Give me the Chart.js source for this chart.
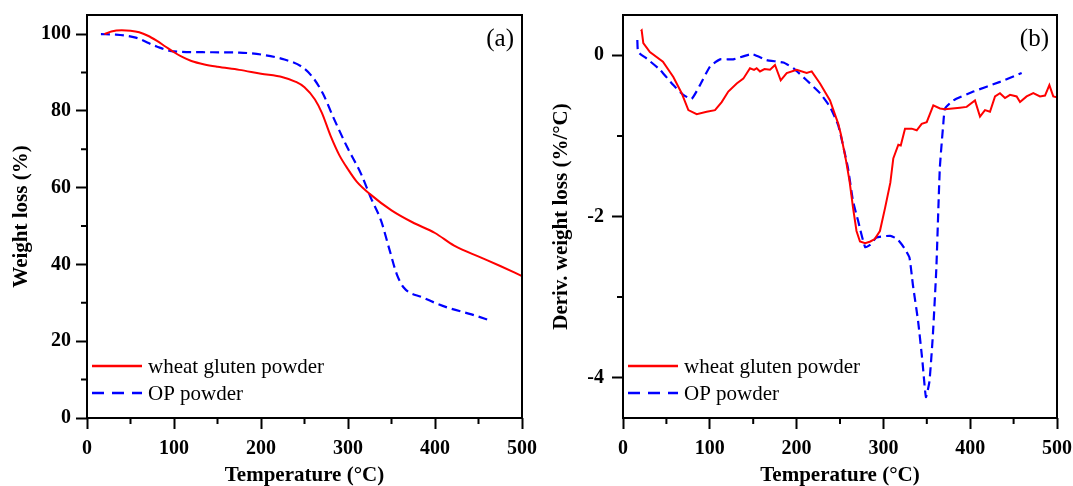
<!DOCTYPE html>
<html>
<head>
<meta charset="utf-8">
<script src="https://cdn.jsdelivr.net/npm/chart.js@4.4.1/dist/chart.umd.min.js"></script>
<style>
  html, body { margin: 0; padding: 0; background: #fff; overflow: hidden; }
  #wrap { position: relative; width: 1073px; height: 486px; background: #fff; }
  #ca { position: absolute; left: 0; top: 0; }
  #cb { position: absolute; left: 540px; top: 0; }
</style>
</head>
<body>
<div id="wrap">
  <canvas id="ca" width="540" height="486"></canvas>
  <canvas id="cb" width="533" height="486"></canvas>
</div>
<script>
// ---------- DATA ----------
const seriesNames = ['wheat gluten powder', 'OP powder'];
const panelLabels = ['(a)', '(b)'];

// Panel (a): weight loss (%) vs temperature (°C)
const aTempWheat   = [20, 28, 40, 50, 60, 70, 80, 90, 100, 110, 120, 135, 150, 175, 200, 225, 240, 250, 262, 270, 280, 290, 300, 310, 326, 350, 374, 400, 422, 453, 475, 500];
const aWeightWheat = [100.0, 100.7, 101.0, 100.9, 100.5, 99.6, 98.3, 96.8, 95.3, 94.0, 93.0, 92.1, 91.5, 90.7, 89.7, 88.8, 87.6, 86.2, 83.0, 79.5, 73.5, 68.5, 64.8, 61.6, 58.2, 54.1, 51.0, 48.2, 44.9, 41.8, 39.6, 37.0];
const aTempOP      = [16, 33, 56, 80, 100, 136, 175, 203, 227, 247, 259, 271, 283, 299, 315, 326, 338, 348, 356, 364, 386, 414, 442, 465];
const aWeightOP    = [100.0, 99.9, 99.1, 96.8, 95.5, 95.3, 95.2, 94.6, 93.4, 91.5, 88.9, 84.6, 78.4, 70.6, 63.6, 57.5, 51.4, 43.6, 37.5, 34.0, 31.4, 28.8, 27.0, 25.3];

// Panel (b): derivative weight loss (%/°C) vs temperature (°C)
const bTempWheat  = [20.5, 21.5, 23.4, 31, 46, 58, 67.6, 75.3, 84.9, 96.4, 106, 113.7, 121.3, 131, 138.6, 146.3, 151, 154, 157.8, 163, 169.4, 175.1, 181.7, 188.6, 200.1, 211.6, 217.4, 227, 238.5, 248, 251, 257, 261, 265, 269, 273, 279, 285, 290, 296, 302, 308, 311.4, 317.2, 320, 324.9, 332.6, 338.4, 344.1, 349.9, 357.5, 365.2, 371, 388.2, 395.9, 405.5, 411.3, 417, 422.8, 428.6, 434.3, 440.1, 445.9, 453.5, 457.4, 465, 472.7, 480.4, 486.2, 491.2, 495.7, 500];
const bDerivWheat = [0.30, 0.31, 0.15, 0.04, -0.08, -0.27, -0.47, -0.68, -0.73, -0.70, -0.68, -0.58, -0.45, -0.35, -0.29, -0.16, -0.18, -0.16, -0.20, -0.17, -0.18, -0.12, -0.31, -0.22, -0.18, -0.22, -0.20, -0.35, -0.56, -0.85, -0.98, -1.31, -1.56, -1.89, -2.18, -2.31, -2.33, -2.31, -2.28, -2.18, -1.89, -1.58, -1.28, -1.11, -1.12, -0.91, -0.91, -0.93, -0.85, -0.83, -0.62, -0.66, -0.67, -0.65, -0.64, -0.56, -0.76, -0.68, -0.70, -0.51, -0.47, -0.53, -0.49, -0.51, -0.58, -0.51, -0.47, -0.51, -0.50, -0.37, -0.51, -0.52];
const bTempOP     = [16.5, 17.5, 27.3, 42.6, 58, 69.5, 79.1, 88.7, 100.2, 111.8, 127, 148.3, 165.5, 184.7, 196.2, 211.6, 227, 238.5, 248, 259, 265, 271, 279, 285, 292, 308, 316, 324, 330, 334, 340, 345, 349, 353, 357, 361, 365, 369, 371, 380.5, 403.6, 434.3, 459.3];
const bDerivOP    = [0.19, 0.04, -0.04, -0.18, -0.37, -0.49, -0.54, -0.37, -0.14, -0.05, -0.05, 0.015, -0.06, -0.09, -0.16, -0.31, -0.47, -0.64, -0.87, -1.39, -1.81, -2.06, -2.38, -2.35, -2.26, -2.24, -2.28, -2.39, -2.51, -2.85, -3.30, -3.80, -4.24, -4.05, -3.47, -2.64, -1.40, -0.85, -0.66, -0.56, -0.45, -0.33, -0.22];

// Tick labels
const xMajorTicks  = [0, 100, 200, 300, 400, 500];
const xMinorTicks  = [50, 150, 250, 350, 450];
const aYMajorTicks = [0, 20, 40, 60, 80, 100];
const aYMinorTicks = [10, 30, 50, 70, 90];
const bYMajorTicks = [-4, -2, 0];
const bYMinorTicks = [-3, -1];

const xTitle  = 'Temperature (°C)';
const aYTitle = 'Weight loss (%)';
const bYTitle = 'Deriv. weight loss (%/°C)';

// ---------- STYLE ----------
const FONT = 'Liberation Serif';
const RED = '#ff0000';
const BLUE = '#0000ff';
const DASH = [9, 5];

function pts(xs, ys) { return xs.map((x, i) => ({ x: x, y: ys[i] })); }

const decorPlugin = {
  id: 'decor',
  afterDraw(chart, args, opts) {
    const { ctx, chartArea: a } = chart;
    ctx.save();
    ctx.strokeStyle = '#000';
    ctx.lineWidth = 2;
    ctx.setLineDash([]);
    ctx.strokeRect(a.left, a.top, a.right - a.left, a.bottom - a.top);
    const xs = chart.scales.x, ys = chart.scales.y;
    ctx.beginPath();
    opts.xMinor.forEach(v => {
      const px = xs.getPixelForValue(v);
      ctx.moveTo(px, a.bottom); ctx.lineTo(px, a.bottom + 6);
    });
    opts.yMinor.forEach(v => {
      const py = ys.getPixelForValue(v);
      ctx.moveTo(a.left, py); ctx.lineTo(a.left - 6, py);
    });
    ctx.stroke();
    ctx.font = '21px "' + FONT + '"';
    ctx.textBaseline = 'middle';
    ctx.textAlign = 'left';
    const rows = [a.bottom - 52, a.bottom - 25];
    chart.data.datasets.forEach((ds, i) => {
      const y = rows[i];
      ctx.strokeStyle = ds.borderColor;
      ctx.lineWidth = 2.5;
      ctx.setLineDash(i === 0 ? [] : [12, 8]);
      ctx.beginPath();
      ctx.moveTo(a.left + 5, y); ctx.lineTo(a.left + 55, y);
      ctx.stroke();
      ctx.setLineDash([]);
      ctx.fillStyle = '#000';
      ctx.fillText(ds.label, a.left + 61, y + 1);
    });
    ctx.font = '25px "' + FONT + '"';
    ctx.textAlign = 'right';
    ctx.fillText(opts.panel, a.right - 8, a.top + 24);
    ctx.restore();
  }
};

function makeScales(yMajor, yMinor, yMin, yMax, yTitleText, yWidth, yPad) {
  const xAll = xMajorTicks.concat(xMinorTicks).sort((p, q) => p - q);
  const yAll = yMajor.concat(yMinor).sort((p, q) => p - q);
  return {
    x: {
      type: 'linear', min: 0, max: 500,
      afterBuildTicks: s => { s.ticks = xAll.map(v => ({ value: v })); },
      afterFit: s => { s.height = 68; s.paddingLeft = 0; s.paddingRight = 0; },
      border: { display: false },
      grid: {
        drawOnChartArea: false, drawTicks: true, tickLength: 11, tickWidth: 2,
        tickColor: c => xMajorTicks.includes(c.tick.value) ? '#000' : 'rgba(0,0,0,0)'
      },
      ticks: {
        autoSkip: false, maxRotation: 0, padding: 8, color: '#000',
        font: { family: FONT, size: 20, weight: 'bold' },
        callback: v => xMajorTicks.includes(v) ? String(v) : ''
      },
      title: {
        display: true, text: xTitle, color: '#000',
        font: { family: FONT, size: 21, weight: 'bold', lineHeight: 1 },
        padding: { top: 0, bottom: 0 }
      }
    },
    y: {
      type: 'linear', min: yMin, max: yMax,
      afterBuildTicks: s => { s.ticks = yAll.map(v => ({ value: v })); },
      afterFit: s => { s.width = yWidth; s.paddingTop = 0; s.paddingBottom = 0; },
      border: { display: false },
      grid: {
        drawOnChartArea: false, drawTicks: true, tickLength: 11, tickWidth: 2,
        tickColor: c => yMajor.includes(c.tick.value) ? '#000' : 'rgba(0,0,0,0)'
      },
      ticks: {
        autoSkip: false, padding: yPad, color: '#000',
        font: { family: FONT, size: 20, weight: 'bold' },
        callback: v => yMajor.includes(v) ? String(v) : ''
      },
      title: {
        display: true, text: yTitleText, color: '#000',
        font: { family: FONT, size: 21, weight: 'bold', lineHeight: 1 },
        padding: { top: 11, bottom: 0 }
      }
    }
  };
}

const common = {
  responsive: false,
  animation: false,
  devicePixelRatio: 1,
  plugins: { legend: { display: false }, tooltip: { enabled: false } },
  elements: { point: { radius: 0 } }
};

new Chart(document.getElementById('ca'), {
  type: 'line',
  data: {
    datasets: [
      { label: seriesNames[0], data: pts(aTempWheat, aWeightWheat), borderColor: RED, borderWidth: 2, cubicInterpolationMode: 'monotone', fill: false },
      { label: seriesNames[1], data: pts(aTempOP, aWeightOP), borderColor: BLUE, borderWidth: 2.2, borderDash: DASH, cubicInterpolationMode: 'monotone', fill: false }
    ]
  },
  options: Object.assign({}, common, {
    layout: { padding: { top: 15, right: 18, bottom: 0, left: 0 } },
    scales: makeScales(aYMajorTicks, aYMinorTicks, 0, 105, aYTitle, 87, 5),
    plugins: Object.assign({}, common.plugins, { decor: { xMinor: xMinorTicks, yMinor: aYMinorTicks, panel: panelLabels[0] } })
  }),
  plugins: [decorPlugin]
});

new Chart(document.getElementById('cb'), {
  type: 'line',
  data: {
    datasets: [
      { label: seriesNames[0], data: pts(bTempWheat, bDerivWheat), borderColor: RED, borderWidth: 2, tension: 0, fill: false },
      { label: seriesNames[1], data: pts(bTempOP, bDerivOP), borderColor: BLUE, borderWidth: 2.2, borderDash: DASH, tension: 0.15, fill: false }
    ]
  },
  options: Object.assign({}, common, {
    layout: { padding: { top: 15, right: 16, bottom: 0, left: 0 } },
    scales: makeScales(bYMajorTicks, bYMinorTicks, -4.5, 0.5, bYTitle, 83, 8),
    plugins: Object.assign({}, common.plugins, { decor: { xMinor: xMinorTicks, yMinor: bYMinorTicks, panel: panelLabels[1] } })
  }),
  plugins: [decorPlugin]
});
</script>
</body>
</html>
